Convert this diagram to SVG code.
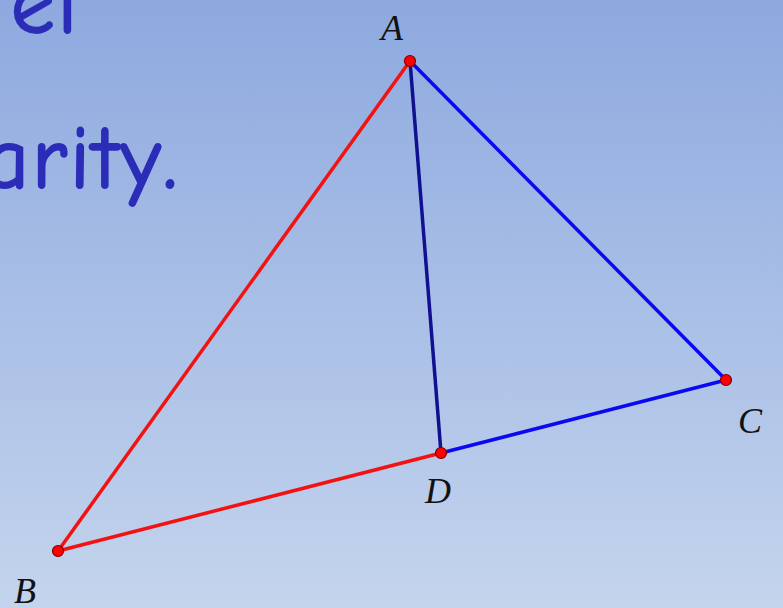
<svg xmlns="http://www.w3.org/2000/svg" width="783" height="608" viewBox="0 0 783 608">
<defs>
<linearGradient id="bg" x1="0" y1="0" x2="0" y2="1">
<stop offset="0" stop-color="#8DA9DF"/>
<stop offset="1" stop-color="#C4D4ED"/>
</linearGradient>
</defs>
<style>
.title{font-family:"Comic Neue","Noto Sans","Liberation Sans",sans-serif;fill:#2B2DB8;stroke:#2B2DB8;stroke-width:2;font-size:88px;letter-spacing:3px;}
.lbl{font-family:"Liberation Serif",serif;font-style:italic;font-size:36px;fill:#111;}
.pt{fill:#F00;stroke:#7A0000;stroke-width:1.2;}
.red{stroke:#F21212;stroke-width:3.5;fill:none;}
.blue{stroke:#0A0AF0;stroke-width:3.5;fill:none;}
.navy{stroke:#101090;stroke-width:3.5;fill:none;}
</style>
<rect width="783" height="608" fill="url(#bg)"/>
<text class="title" x="80" y="33" text-anchor="end">el</text>
<text class="title" x="180" y="188" text-anchor="end">arity.</text>
<g id="connectors">
<line class="red" x1="410" y1="61" x2="58" y2="551"/>
<line class="red" x1="58" y1="551" x2="441" y2="453"/>
<line class="blue" x1="410" y1="61" x2="726" y2="380"/>
<line class="blue" x1="441" y1="453" x2="726" y2="380"/>
<line class="navy" x1="410" y1="61" x2="441" y2="453"/>
</g>
<g id="A"><circle class="pt" cx="410" cy="61" r="5.5"/><text class="lbl" x="381" y="40">A</text></g>
<g id="B"><circle class="pt" cx="58" cy="551" r="5.5"/><text class="lbl" x="14" y="603">B</text></g>
<g id="C"><circle class="pt" cx="726" cy="380" r="5.5"/><text class="lbl" x="738" y="433">C</text></g>
<g id="D"><circle class="pt" cx="441" cy="453" r="5.5"/><text class="lbl" x="425" y="503">D</text></g>
</svg>
